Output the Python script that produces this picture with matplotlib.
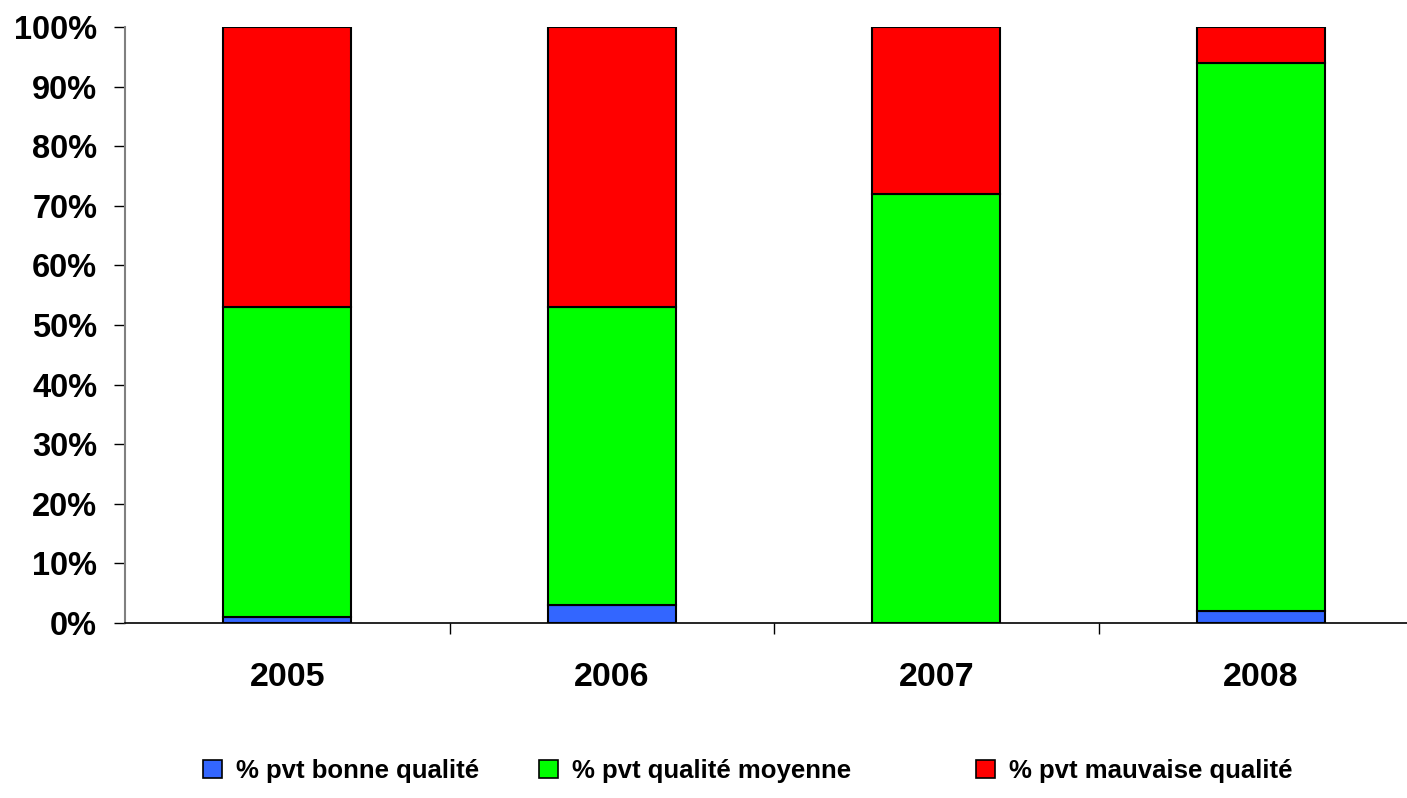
import matplotlib
matplotlib.use("Agg")
import matplotlib.pyplot as plt
import numpy as np

years = ["2005", "2006", "2007", "2008"]
bonne = [1, 3, 0, 2]
moyenne = [52, 50, 72, 92]
mauvaise = [47, 47, 28, 6]
labels = ["% pvt bonne qualité", "% pvt qualité moyenne", "% pvt mauvaise qualité"]
colors = ["#3366FF", "#00FF00", "#FF0000"]
yticks = [0, 10, 20, 30, 40, 50, 60, 70, 80, 90, 100]

plt.rcParams['font.family'] = ['Liberation Sans', 'DejaVu Sans']

fig = plt.figure(figsize=(14.07, 7.98), dpi=100)
ax = fig.add_axes([125/1407, 175/798, 1298/1407, 596/798])

x = np.arange(len(years))
w = 0.395
bottom = np.zeros(len(years))
handles = []
for vals, lab, col in zip([bonne, moyenne, mauvaise], labels, colors):
    vals = np.array(vals, dtype=float)
    b = ax.bar(x, vals, w, bottom=bottom, color=col, edgecolor="black", linewidth=1.5, label=lab)
    handles.append(b)
    bottom += vals

ax.set_xlim(-0.5, 3.5)
ax.set_ylim(0, 100)
ax.set_yticks(yticks)
ax.set_yticklabels([f"{v}%" for v in yticks], fontsize=23.5, fontweight="bold")
ax.set_xticks(x)
ax.set_xticklabels(years, fontsize=24.5, fontweight="bold")
ax.tick_params(axis="x", length=0, pad=28)
ax.set_xticks([0.5, 1.5, 2.5], minor=True)
ax.tick_params(axis="x", which="minor", length=8, width=1, color="black", direction="out")
ax.tick_params(axis="y", length=8, width=1, color="black", direction="out", pad=12)

for s in ["top", "right"]:
    ax.spines[s].set_visible(False)
ax.spines["left"].set_color("#808080")
ax.spines["left"].set_linewidth(1.5)
ax.spines["bottom"].set_color("black")
ax.spines["bottom"].set_linewidth(1.2)

# one legend entry per legend, each placed where the reference puts it
legend_x = [203, 539, 976]
for h, lab, lx in zip(handles, labels, legend_x):
    leg = fig.legend(handles=[h], labels=[lab], loc="center left",
                     bbox_to_anchor=(lx/1407, 1 - 771/798), borderaxespad=0, borderpad=0,
                     frameon=False, prop={"size": 18.5, "weight": "bold"},
                     handlelength=0.75, handleheight=0.75, handletextpad=0.55)
    for p in leg.get_patches():
        p.set_linewidth(1.2)

fig.savefig("out.png", dpi=100)
